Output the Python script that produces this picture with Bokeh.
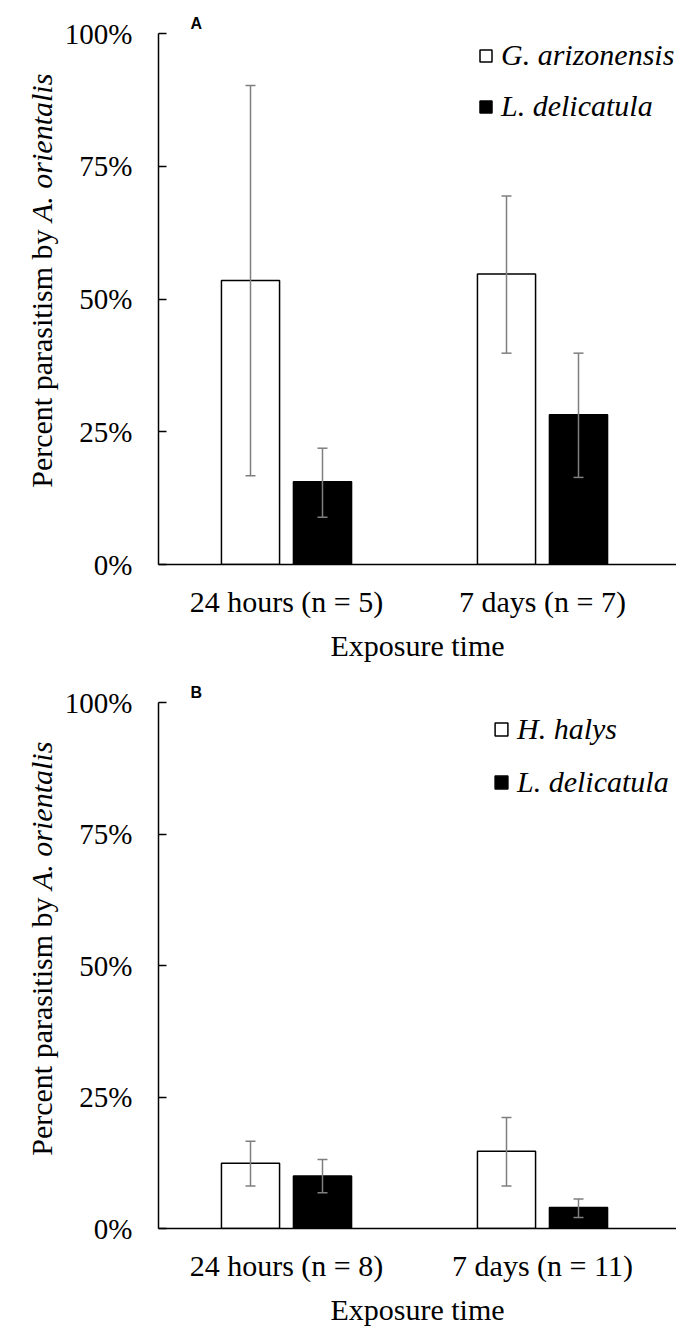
from math import pi
from bokeh.plotting import figure
from bokeh.models import (Range1d, ColumnDataSource, Whisker, TeeHead,
                          Legend, LegendItem, Label, FixedTicker, PrintfTickFormatter)
from bokeh.core.properties import value
from bokeh.transform import dodge
from bokeh.layouts import column, row
from bokeh.embed import file_html
from bokeh.resources import INLINE

# ---------------- data ----------------
y_ticks = [0, 25, 50, 75, 100]

cats_a = ["24 hours (n = 5)", "7 days (n = 7)"]
series_a = ["G. arizonensis", "L. delicatula"]
garz = [53.5, 54.7]
garz_lo = [16.7, 39.8]
garz_hi = [90.2, 69.4]
ldel_a = [15.6, 28.2]
ldel_a_lo = [8.9, 16.4]
ldel_a_hi = [21.9, 39.8]

cats_b = ["24 hours (n = 8)", "7 days (n = 11)"]
series_b = ["H. halys", "L. delicatula"]
hhal = [12.4, 14.7]
hhal_lo = [8.1, 8.1]
hhal_hi = [16.6, 21.1]
ldel_b = [10.0, 4.0]
ldel_b_lo = [6.8, 2.1]
ldel_b_hi = [13.1, 5.6]

y_title = ["Percent parasitism by", "A. orientalis"]

SERIF = "Liberation Serif"
ERR = "#7f7f7f"
OFF = 0.1406
BW = 0.227
TITLE_W = 60
PX_PER_CAT = 256.0
FRAME_W = 676 - 158


def make_panel(letter, cats, v1, lo1, hi1, v2, lo2, hi2, names,
               top, bottom, legend_loc, spacing, glyph):
    p = figure(width=676 - TITLE_W, height=664,
               x_range=Range1d(0, FRAME_W / PX_PER_CAT),
               y_range=Range1d(0, 100),
               output_backend="svg", toolbar_location=None,
               min_border_left=158 - TITLE_W, min_border_right=0,
               min_border_top=top, min_border_bottom=bottom,
               title=letter)
    p.outline_line_color = None
    p.xgrid.visible = False
    p.ygrid.visible = False

    p.title.text_font = "Liberation Sans"
    p.title.text_font_style = "bold"
    p.title.text_font_size = "16px"
    p.title.text_color = "black"
    p.title.align = "left"
    p.title.offset = 32
    p.title.standoff = 4

    pos = [i + 0.5 for i in range(len(cats))]
    src = ColumnDataSource(dict(pos=pos, v1=v1, lo1=lo1, hi1=hi1,
                                v2=v2, lo2=lo2, hi2=hi2))
    r1 = p.vbar(x=dodge("pos", -OFF), top="v1", width=BW,
                source=src, fill_color="white", line_color="black", line_width=1.5)
    r2 = p.vbar(x=dodge("pos", OFF), top="v2", width=BW,
                source=src, fill_color="black", line_color="black", line_width=1.5)
    for key, off in (("1", -OFF), ("2", OFF)):
        w = Whisker(base=dodge("pos", off),
                    lower="lo" + key, upper="hi" + key, source=src,
                    line_color=ERR, line_width=1.5, level="overlay")
        w.upper_head = TeeHead(size=10, line_color=ERR, line_width=1.5)
        w.lower_head = TeeHead(size=10, line_color=ERR, line_width=1.5)
        p.add_layout(w)

    # axes
    p.axis.axis_line_color = "black"
    p.axis.axis_line_width = 1.5
    p.axis.minor_tick_in = 0
    p.axis.minor_tick_out = 0

    p.yaxis.ticker = FixedTicker(ticks=y_ticks)
    p.yaxis.formatter = PrintfTickFormatter(format="%d%%")
    p.yaxis.major_tick_in = 8
    p.yaxis.major_tick_out = 0
    p.yaxis.major_tick_line_color = "black"
    p.yaxis.major_tick_line_width = 1.5
    p.yaxis.major_label_standoff = 26
    p.yaxis.major_label_text_font = SERIF
    p.yaxis.major_label_text_font_size = "29px"
    p.yaxis.major_label_text_color = "black"

    p.xaxis.ticker = FixedTicker(ticks=pos)
    p.xaxis.major_label_overrides = {x: c for x, c in zip(pos, cats)}
    p.xaxis.major_tick_in = 0
    p.xaxis.major_tick_out = 0
    p.xaxis.major_label_standoff = 20
    p.xaxis.major_label_text_font = SERIF
    p.xaxis.major_label_text_font_size = "30px"
    p.xaxis.major_label_text_color = "black"
    p.xaxis.axis_label = "Exposure time"
    p.xaxis.axis_label_text_font = SERIF
    p.xaxis.axis_label_text_font_style = "normal"
    p.xaxis.axis_label_text_font_size = "30px"
    p.xaxis.axis_label_text_color = "black"
    p.xaxis.axis_label_standoff = 8

    legend = Legend(items=[LegendItem(label=value(names[0]), renderers=[r1]),
                           LegendItem(label=value(names[1]), renderers=[r2])],
                    location=legend_loc, orientation="vertical",
                    border_line_color=None, background_fill_alpha=0,
                    padding=0, margin=0, spacing=spacing,
                    glyph_width=glyph, glyph_height=glyph, label_standoff=8,
                    label_text_font=SERIF, label_text_font_style="italic",
                    label_text_font_size="30px", label_text_color="black")
    p.add_layout(legend)
    return p


pa = make_panel("A", cats_a, garz, garz_lo, garz_hi, ldel_a, ldel_a_lo, ldel_a_hi,
                series_a, 33, 98, (320, 441), 17, 15)
pb = make_panel("B", cats_b, hhal, hhal_lo, hhal_hi, ldel_b, ldel_b_lo, ldel_b_hi,
                series_b, 38, 94, (335, 429), 19, 16)

# narrow strip holding the rotated y-axis titles (roman + italic parts)
t = figure(width=TITLE_W, height=1328, x_range=Range1d(0, 1), y_range=Range1d(0, 1),
           x_axis_type=None, y_axis_type=None, output_backend="svg",
           toolbar_location=None, min_border=0)
t.outline_line_color = None
t.xgrid.visible = False
t.ygrid.visible = False
common = dict(x=41, x_units="screen", y_units="screen", angle=pi / 2,
              text_baseline="alphabetic", text_font=SERIF,
              text_font_size="30px", text_color="black")
for junction in (1099, 431):
    t.add_layout(Label(y=junction, text=y_title[0], text_align="right", **common))
    t.add_layout(Label(y=junction + 7.5, text=y_title[1], text_align="left",
                       text_font_style="italic", **common))

layout = row(t, column(pa, pb, spacing=0), spacing=0)
open("out.html", "w").write(file_html(layout, INLINE))
